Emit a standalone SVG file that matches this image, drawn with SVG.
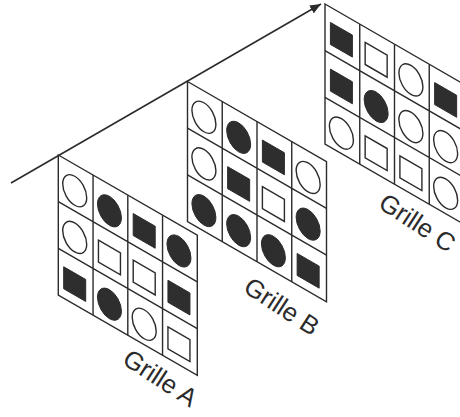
<svg xmlns="http://www.w3.org/2000/svg" xmlns:xlink="http://www.w3.org/1999/xlink" width="460" height="417" viewBox="0 0 460 417">
<style>
.frame{fill:#fff;stroke:#2b2b2b;stroke-width:1.4;vector-effect:non-scaling-stroke}
.div{fill:none;stroke:#2b2b2b;stroke-width:1.4;vector-effect:non-scaling-stroke}
.hol{fill:#fff;stroke:#2b2b2b;stroke-width:1.4;vector-effect:non-scaling-stroke}
.fil{fill:#2e2e2e;stroke:#2b2b2b;stroke-width:1;vector-effect:non-scaling-stroke}
.lbl{font-family:"Liberation Sans",Arial,sans-serif;font-size:25.5px;fill:#2b2b2b}
.arrow{fill:none;stroke:#2b2b2b;stroke-width:1.6}
</style>
<defs>
<marker id="ah" markerUnits="userSpaceOnUse" markerWidth="12" markerHeight="9" refX="11" refY="4.5" orient="auto">
<path d="M0,0 L11,4.5 L0,9 z" fill="#2b2b2b"/>
</marker>
<ellipse id="ec" class="hol" rx="12" ry="14.5"/>
<ellipse id="ef" class="fil" rx="12" ry="14.5"/>
<rect id="sc" class="hol" x="-11" y="-11" width="22" height="22"/>
<rect id="sf" class="fil" x="-11" y="-11" width="22" height="22"/>
<g id="frame">
<rect class="frame" x="0" y="0" width="139" height="140"/>
<path class="div" d="M34.75,0V140M69.5,0V140M104.25,0V140M0,46.67H139M0,93.33H139"/>
</g>
</defs>
<g id="connectors">
<line class="arrow" x1="11" y1="183" x2="321" y2="4" marker-end="url(#ah)"/>
</g>
<g id="grille-a" transform="translate(58.3,155) skewY(30)">
<use href="#frame"/>
<use href="#ec" x="16.4" y="26.3"/><use href="#ef" x="51.15" y="26.3"/><use href="#sf" x="85.9" y="26.3"/><use href="#ef" x="120.65" y="26.3"/>
<use href="#ec" x="16.4" y="72.97"/><use href="#sc" x="51.15" y="72.97"/><use href="#sc" x="85.9" y="72.97"/><use href="#sf" x="120.65" y="72.97"/>
<use href="#sf" x="16.4" y="119.64"/><use href="#ef" x="51.15" y="119.64"/><use href="#ec" x="85.9" y="119.64"/><use href="#sc" x="120.65" y="119.64"/>
</g>
<g id="grille-b" transform="translate(187.5,81.5) skewY(30)">
<use href="#frame"/>
<use href="#ec" x="16.4" y="26.3"/><use href="#ef" x="51.15" y="26.3"/><use href="#sf" x="85.9" y="26.3"/><use href="#ec" x="120.65" y="26.3"/>
<use href="#ec" x="16.4" y="72.97"/><use href="#sf" x="51.15" y="72.97"/><use href="#sc" x="85.9" y="72.97"/><use href="#ef" x="120.65" y="72.97"/>
<use href="#ef" x="16.4" y="119.64"/><use href="#ef" x="51.15" y="119.64"/><use href="#ef" x="85.9" y="119.64"/><use href="#sf" x="120.65" y="119.64"/>
</g>
<g id="grille-c" transform="translate(325,4) skewY(30)">
<use href="#frame"/>
<use href="#sf" x="16.4" y="26.3"/><use href="#sc" x="51.15" y="26.3"/><use href="#ec" x="85.9" y="26.3"/><use href="#sf" x="120.65" y="26.3"/>
<use href="#sf" x="16.4" y="72.97"/><use href="#ef" x="51.15" y="72.97"/><use href="#ec" x="85.9" y="72.97"/><use href="#ec" x="120.65" y="72.97"/>
<use href="#ec" x="16.4" y="119.64"/><use href="#sc" x="51.15" y="119.64"/><use href="#sc" x="85.9" y="119.64"/><use href="#ec" x="120.65" y="119.64"/>
</g>
<g id="label-a"><text class="lbl" transform="translate(121,363) rotate(33)">Grille A</text></g>
<g id="label-b"><text class="lbl" transform="translate(242,291) rotate(33)">Grille B</text></g>
<g id="label-c"><text class="lbl" transform="translate(377,207) rotate(33)">Grille C</text></g>
</svg>
